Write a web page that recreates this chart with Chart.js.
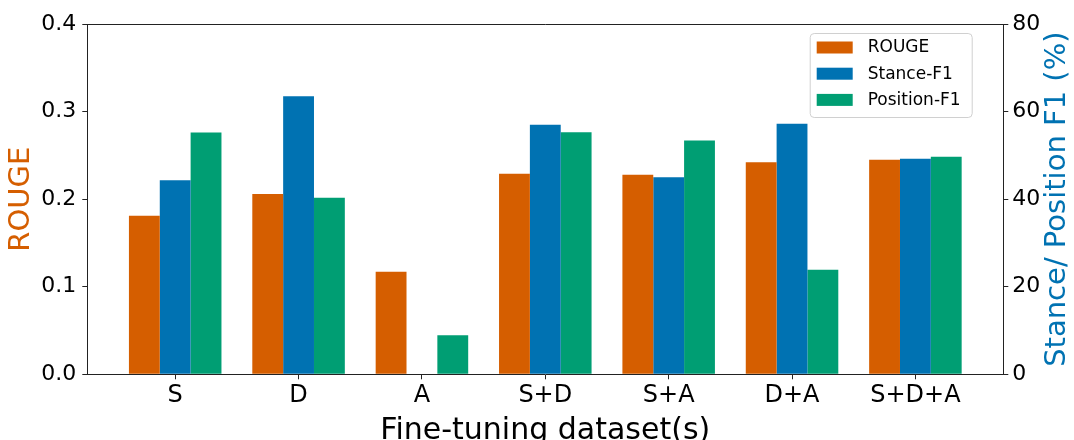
<!DOCTYPE html>
<html lang="en">
<head>
    <meta charset="UTF-8">
    <title>ROUGE and F1 by fine-tuning dataset</title>
    <script src="https://cdn.jsdelivr.net/npm/chart.js"></script>
    <style>
        html, body { margin: 0; padding: 0; background: #fff; }
        .chart-box { width: 1074px; height: 440px; position: relative; }
    </style>
</head>
<body>
    <div class="chart-box">
        <canvas id="rouge-chart"></canvas>
    </div>

    <script>
        const datasetsUsed = ["S", "D", "A", "S+D", "S+A", "D+A", "S+D+A"];
        const rouge = [0.181, 0.206, 0.117, 0.229, 0.228, 0.242, 0.245];
        const stanceF1 = [44.3, 63.5, 0, 57.0, 45.0, 57.2, 49.2];
        const positionF1 = [55.2, 40.3, 8.9, 55.3, 53.4, 23.9, 49.7];
        const rougeTicks = [0, 0.1, 0.2, 0.3, 0.4];
        const f1Ticks = [0, 20, 40, 60, 80];

        const ORANGE = "#D55E00", BLUE = "#0072B2", GREEN = "#009E73";
        const FONT = "DejaVu Sans";

        const toPoints = arr => arr.map((v, i) => ({ x: i, y: v }));

        // legend box + top spine + right title (matplotlib style twin axis)
        const extras = {
            id: "extras",
            afterDatasetsDraw(chart) {
                const { ctx, chartArea } = chart;
                ctx.save();

                // top spine
                ctx.strokeStyle = "#222";
                ctx.lineWidth = 1;
                ctx.beginPath();
                ctx.moveTo(chartArea.left, chartArea.top + 0.5);
                ctx.lineTo(chartArea.right, chartArea.top + 0.5);
                ctx.stroke();

                // legend
                const w = 162, h = 84;
                const L = chartArea.right - 31.6 - w, T = chartArea.top + 9;
                ctx.fillStyle = "rgba(255,255,255,0.8)";
                ctx.strokeStyle = "#d0d0d0";
                ctx.lineWidth = 1;
                ctx.beginPath();
                ctx.roundRect(L + 0.5, T + 0.5, w, h, 4);
                ctx.fill();
                ctx.stroke();

                ctx.font = "17px '" + FONT + "'";
                ctx.textBaseline = "middle";
                ctx.textAlign = "left";
                chart.data.datasets.forEach((ds, i) => {
                    const y = T + 8.5 + i * 26.2;
                    ctx.fillStyle = ds.backgroundColor;
                    ctx.fillRect(L + 7, y, 36, 12);
                    ctx.fillStyle = "#000";
                    ctx.fillText(ds.label, L + 58, y + 6.5);
                });

                // right axis title, reading bottom to top
                ctx.translate(1057, (chartArea.top + chartArea.bottom) / 2);
                ctx.rotate(-Math.PI / 2);
                ctx.textAlign = "center";
                ctx.fillStyle = BLUE;
                ctx.font = "29px '" + FONT + "'";
                ctx.fillText("Stance/ Position F1 (%)", 0, 0);
                ctx.restore();
            }
        };

        new Chart(document.getElementById("rouge-chart"), {
            type: "bar",
            data: {
                datasets: [
                    { label: "ROUGE", data: toPoints(rouge), backgroundColor: ORANGE, yAxisID: "y" },
                    { label: "Stance-F1", data: toPoints(stanceF1), backgroundColor: BLUE, yAxisID: "y1" },
                    { label: "Position-F1", data: toPoints(positionF1), backgroundColor: GREEN, yAxisID: "y1" }
                ]
            },
            options: {
                responsive: true,
                maintainAspectRatio: false,
                animation: false,
                categoryPercentage: 0.75,
                barPercentage: 1.0,
                layout: { padding: { top: 24, left: 0, right: 0, bottom: 0 } },
                plugins: {
                    legend: { display: false },
                    tooltip: { enabled: false }
                },
                scales: {
                    x: {
                        type: "linear",
                        min: -0.7125,
                        max: 6.7125,
                        offset: false,
                        grid: { offset: false, drawOnChartArea: false, tickLength: 5, color: "#222" },
                        border: { color: "#222", width: 1 },
                        afterBuildTicks: s => { s.ticks = datasetsUsed.map((_, i) => ({ value: i })); },
                        afterFit: s => { s.height = 65.7; },
                        ticks: {
                            color: "#000",
                            padding: 2,
                            maxRotation: 0,
                            font: { family: FONT, size: 24 },
                            callback: v => datasetsUsed[v]
                        },
                        title: {
                            display: true,
                            text: "Fine-tuning dataset(s)",
                            color: "#000",
                            padding: { top: 0, bottom: -5 },
                            font: { family: FONT, size: 30, lineHeight: 0.9 }
                        }
                    },
                    y: {
                        position: "left",
                        min: 0,
                        max: 0.4,
                        grid: { drawOnChartArea: false, tickLength: 5, color: "#222" },
                        border: { color: "#222", width: 1 },
                        afterBuildTicks: s => { s.ticks = rougeTicks.map(v => ({ value: v })); },
                        afterFit: s => { s.width = 87.3; },
                        ticks: {
                            color: "#000",
                            padding: 6,
                            font: { family: FONT, size: 22 },
                            callback: v => v.toFixed(1)
                        },
                        title: {
                            display: true,
                            text: "ROUGE",
                            color: ORANGE,
                            padding: { top: 4, bottom: 0 },
                            font: { family: FONT, size: 29 }
                        }
                    },
                    y1: {
                        position: "right",
                        min: 0,
                        max: 80,
                        grid: { drawOnChartArea: false, tickLength: 5, color: "#222" },
                        border: { color: "#222", width: 1 },
                        afterBuildTicks: s => { s.ticks = f1Ticks.map(v => ({ value: v })); },
                        afterFit: s => { s.width = 70.7; },
                        ticks: {
                            color: "#000",
                            padding: 4,
                            font: { family: FONT, size: 22 }
                        }
                    }
                }
            },
            plugins: [extras]
        });
    </script>
</body>
</html>
